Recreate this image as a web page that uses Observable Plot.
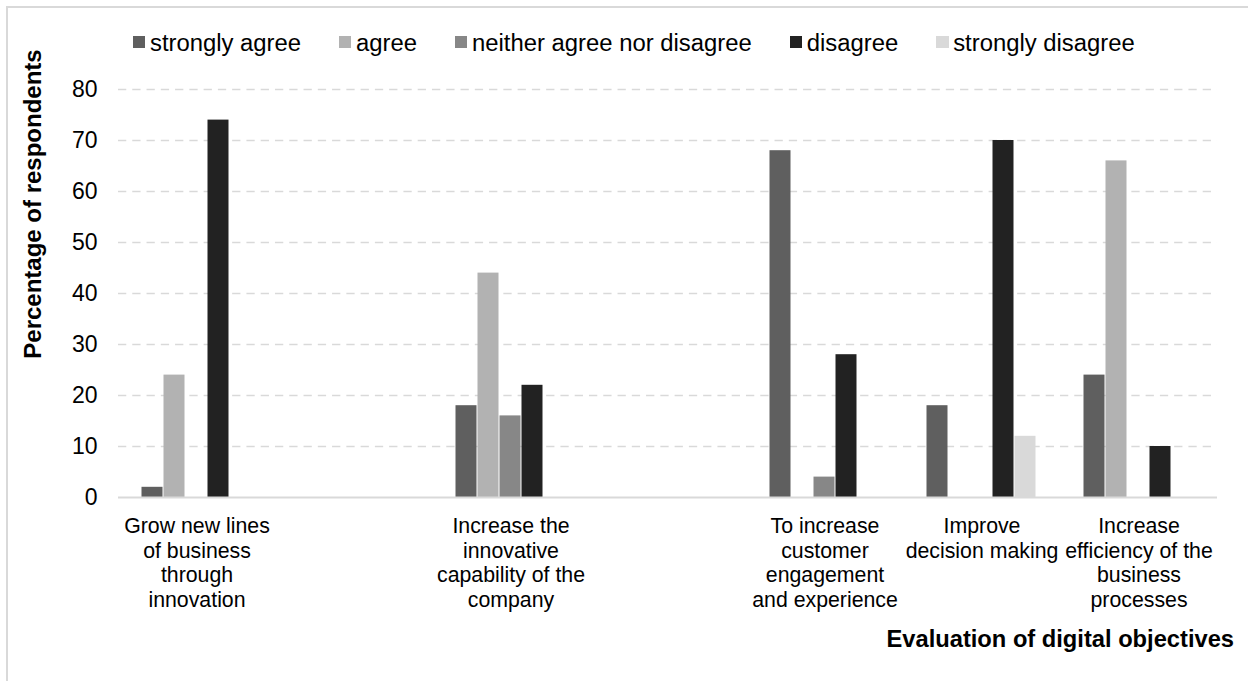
<!DOCTYPE html>
<html>
<head>
<meta charset="utf-8">
<script src="https://cdn.jsdelivr.net/npm/d3@7"></script>
<script src="https://cdn.jsdelivr.net/npm/@observablehq/plot@0.6"></script>
<style>
  html, body { margin: 0; padding: 0; background: #fff; }
  #wrap { position: relative; width: 1248px; height: 681px; overflow: hidden; font-family: "Liberation Sans", Arial, sans-serif; color: #000; }
  #wrap svg { position: absolute; left: 0; top: 0; }
  #frame { position: absolute; left: 6px; top: 6px; width: 1400px; height: 900px; border: 2px solid #d9d9d9; box-sizing: border-box; }
  #legend { position: absolute; left: 133px; top: 28.5px; display: flex; align-items: center; font-size: 23.85px; line-height: 1.15; white-space: nowrap; }
  #legend .item { display: flex; align-items: center; margin-right: 38px; }
  #legend .sw { width: 12.4px; height: 12.4px; margin-right: 4.6px; }
  #ytitle { position: absolute; left: 32.7px; top: 204px; width: 0; height: 0; }
  #ytitle span { position: absolute; left: 0; top: 0; transform: translate(-50%, -50%) rotate(-90deg); font-weight: bold; font-size: 24px; line-height: 1.15; white-space: nowrap; }
  #xtitle { position: absolute; right: 14px; top: 625.5px; font-weight: bold; font-size: 23.7px; line-height: 1.15; white-space: nowrap; }
</style>
</head>
<body>
<div id="wrap">
  <div id="frame"></div>
  <div id="chart"></div>
  <div id="legend"></div>
  <div id="ytitle"><span></span></div>
  <div id="xtitle"></div>
</div>
<script>
// Categories (with two empty slots, as in the reference layout)
const categories = [
  "Grow new lines of business through innovation",
  "(blank 1)",
  "Increase the innovative capability of the company",
  "(blank 2)",
  "To increase customer engagement and experience",
  "Improve decision making",
  "Increase efficiency of the business processes"
];
const categoryLabels = [
  "Grow new lines\nof business\nthrough\ninnovation",
  "",
  "Increase the\ninnovative\ncapability of the\ncompany",
  "",
  "To increase\ncustomer\nengagement\nand experience",
  "Improve\ndecision making",
  "Increase\nefficiency of the\nbusiness\nprocesses"
];
const realCategories = [categories[0], categories[2], categories[4], categories[5], categories[6]];

const series = ["strongly agree", "agree", "neither agree nor disagree", "disagree", "strongly disagree"];
const seriesColors = ["#5f5f5f", "#b2b2b2", "#878787", "#222222", "#d9d9d9"];

// Values per series, in the order of realCategories
const stronglyAgree    = [2, 18, 68, 18, 24];
const agree            = [24, 44, 0, 0, 66];
const neither          = [0, 16, 4, 0, 0];
const disagree         = [74, 22, 28, 70, 10];
const stronglyDisagree = [0, 0, 0, 12, 0];
const seriesValues = [stronglyAgree, agree, neither, disagree, stronglyDisagree];

const yTicks = [0, 10, 20, 30, 40, 50, 60, 70, 80];
const yTitle = "Percentage of respondents";
const xTitle = "Evaluation of digital objectives";

const rows = [];
realCategories.forEach((c, i) => {
  series.forEach((s, j) => rows.push({category: c, series: s, value: seriesValues[j][i]}));
});
const labelRows = categories.map((c, i) => ({category: c, label: categoryLabels[i]}));

const plot = Plot.plot({
  width: 1248,
  height: 681,
  marginLeft: 117.5,
  marginRight: 31.5,
  marginTop: 89,
  marginBottom: 184,
  style: {fontFamily: "'Liberation Sans', Arial, sans-serif", fontSize: "23px", color: "#000", background: "transparent", overflow: "visible"},
  fx: {domain: categories, padding: 0, axis: null, label: null},
  x: {domain: series, axis: null, paddingInner: 1 / 23, paddingOuter: 0.935},
  y: {domain: [0, 80], ticks: yTicks, tickSize: 0, tickPadding: 21, label: null, tickFormat: d => String(d)},
  color: {domain: series, range: seriesColors},
  marks: [
    Plot.ruleY(yTicks.filter(v => v > 0), {stroke: "#d9d9d9", strokeWidth: 1.6, strokeDasharray: "8.27,6"}),
    Plot.barY(rows, {fx: "category", x: "series", y: "value", fill: "series"}),
    Plot.ruleY([0], {stroke: "#d9d9d9", strokeWidth: 2}),
    Plot.text(labelRows, {fx: "category", text: "label", frameAnchor: "bottom", lineAnchor: "top", dy: 18, fontSize: 21.3, lineHeight: 1.16, fill: "#000"})
  ]
});
document.getElementById("chart").appendChild(plot);

// Legend built from the plot's color scale
const color = plot.scale("color");
const legend = document.getElementById("legend");
series.forEach(s => {
  const item = document.createElement("div");
  item.className = "item";
  const sw = document.createElement("div");
  sw.className = "sw";
  sw.style.background = color.apply(s);
  const t = document.createElement("span");
  t.textContent = s;
  item.appendChild(sw);
  item.appendChild(t);
  legend.appendChild(item);
});
document.querySelector("#ytitle span").textContent = yTitle;
document.getElementById("xtitle").textContent = xTitle;
</script>
</body>
</html>
